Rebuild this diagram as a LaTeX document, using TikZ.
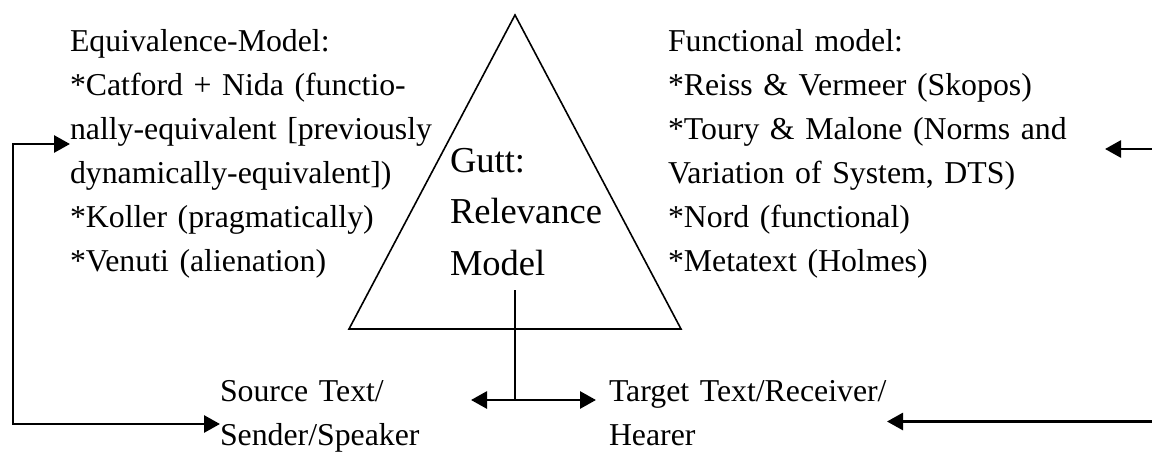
\documentclass[tikz,border=0pt]{standalone}
\usepackage{fontspec}
\setmainfont{Liberation Serif}
\usetikzlibrary{arrows.meta}
\begin{document}
\begin{tikzpicture}[x=1pt,y=-1pt,
  txt/.style={inner sep=0pt, outer sep=0pt, anchor=base west, align=left,
    font=\fontsize{31.8}{44}\selectfont},
  bigtxt/.style={inner sep=0pt, outer sep=0pt, anchor=base west, align=left,
    font=\fontsize{36.5}{51.5}\selectfont},
  tri/.style={line width=1.6pt, line join=miter},
  stem/.style={line width=2.2pt},
  link/.style={line width=2.8pt, -{Triangle[length=16pt,width=17pt]}},
  dlink/.style={line width=2.8pt, {Triangle[length=16pt,width=17pt]}-{Triangle[length=16pt,width=17pt]}}]
\useasboundingbox (0,0) rectangle (1152,452);

% relevance triangle
\coordinate (apex) at (515,15);
\coordinate (bl) at (349,329);
\coordinate (br) at (681,329);
\draw[tri] (apex) -- (bl) -- (br) -- cycle;

% text blocks ({} keeps a leading * from being read as \\*)
\node[txt, text width=380pt] (equiv) at (70,52)
  {Equivalence-Model:\\
   {}*Catford + Nida (functio-\\
   nally-equivalent [previously\\
   dynamically-equivalent])\\
   {}*Koller (pragmatically)\\
   {}*Venuti (alienation)};
\node[txt, text width=460pt] (func) at (668,52)
  {Functional model:\\
   {}*Reiss \& Vermeer (Skopos)\\
   \makebox[441pt][s]{*Toury \& Malone (Norms and}\\
   Variation of System, DTS)\\
   {}*Nord (functional)\\
   {}*Metatext (Holmes)};
\node[bigtxt, text width=200pt] (gutt) at (450,172)
  {Gutt:\\Relevance\\Model};
\node[txt, text width=300pt] (source) at (220,401)
  {Source Text/\\Sender/Speaker};
\node[txt, text width=320pt] (target) at (609,401)
  {Target Text/Receiver/\\Hearer};

% connector ends
\coordinate (gstem) at (515,290);
\coordinate (hub) at (515,400);
\coordinate (srcend) at (471,400);
\coordinate (tgtend) at (596,400);
\coordinate (eqin) at (70,144);
\coordinate (lefttop) at (13,144);
\coordinate (leftbot) at (13,424);
\coordinate (srcin) at (220,424);
\coordinate (fnin) at (1105,149);
\coordinate (fnedge) at (1152,149);
\coordinate (tgin) at (887,421.5);
\coordinate (tgedge) at (1152,421.5);

% connectors
\draw[stem] (gstem) -- (hub);
\draw[dlink] (srcend) -- (tgtend);
\draw[dlink] (eqin) -- (lefttop) -- (leftbot) -- (srcin);
\draw[link] (fnedge) -- (fnin);
\draw[link] (tgedge) -- (tgin);
\end{tikzpicture}
\end{document}
